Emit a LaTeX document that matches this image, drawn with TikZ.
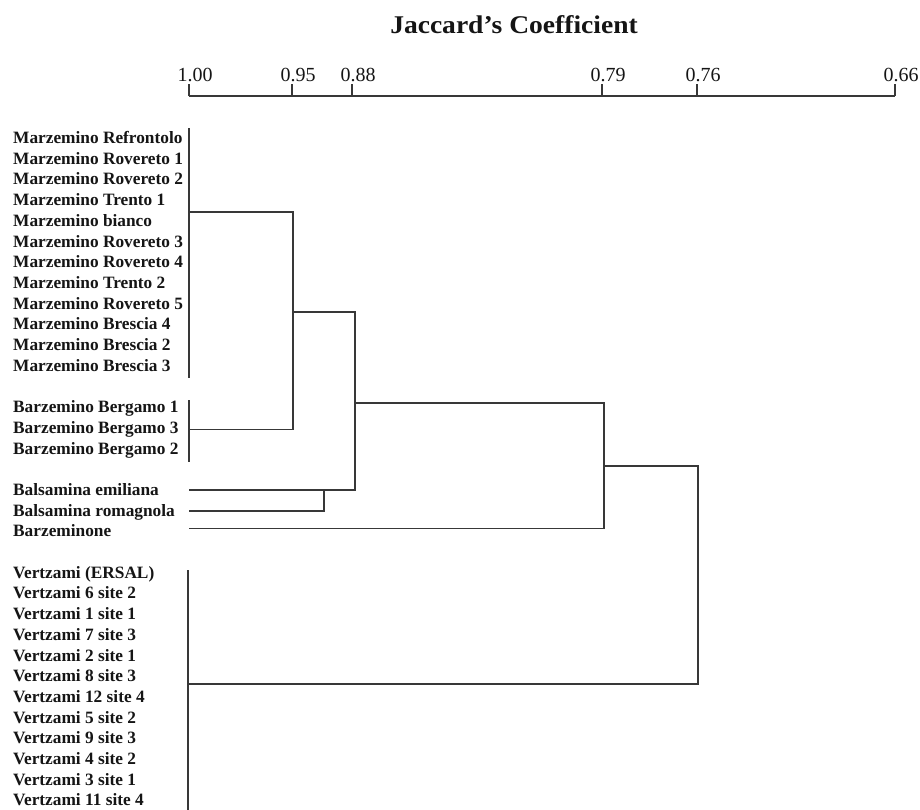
\documentclass[tikz,border=0pt]{standalone}
\usepackage{fontspec}
\setmainfont{Liberation Serif}
\definecolor{ink}{HTML}{151515}
\definecolor{wire}{HTML}{383838}
\begin{document}
\begin{tikzpicture}[x=1pt,y=-1pt,
  lbl/.style={anchor=base west,inner sep=0pt,font=\fontsize{17.3}{17.3}\selectfont\bfseries,text=ink},
  ticklbl/.style={anchor=base,inner sep=0pt,font=\fontsize{20}{20}\selectfont,text=ink},
  ttl/.style={anchor=base,inner sep=0pt,font=\fontsize{25.5}{25.5}\selectfont\bfseries,text=ink},
  link/.style={draw=wire,line width=1.1pt},
]
\useasboundingbox[fill=white] (0,0) rectangle (920,809);

% title
\node[ttl] (title) at (514,33.5) {\scalebox{1.08}[1]{Jaccard's Coefficient}};

% axis
\coordinate (a100) at (189,96);
\coordinate (a95) at (292,96);
\coordinate (a88) at (352,96);
\coordinate (a79) at (602,96);
\coordinate (a76) at (697,96);
\coordinate (a66) at (895,96);
\draw[link] (a100) -- (a66);
\foreach \n/\t in {a100/1.00,a95/0.95,a88/0.88,a79/0.79,a76/0.76,a66/0.66}{
  \draw[link] (\n) -- ++(0,-12);
  \node[ticklbl] (l\n) at ([xshift=6pt,yshift=15pt]\n) {\t};
}

% labels
\foreach \i/\t in {
 0/Marzemino Refrontolo,1/Marzemino Rovereto 1,2/Marzemino Rovereto 2,3/Marzemino Trento 1,
 4/Marzemino bianco,5/Marzemino Rovereto 3,6/Marzemino Rovereto 4,7/Marzemino Trento 2,
 8/Marzemino Rovereto 5,9/Marzemino Brescia 4,10/Marzemino Brescia 2,11/Marzemino Brescia 3,
 13/Barzemino Bergamo 1,14/Barzemino Bergamo 3,15/Barzemino Bergamo 2,
 17/Balsamina emiliana,18/Balsamina romagnola,19/Barzeminone,
 21/Vertzami (ERSAL),22/Vertzami 6 site 2,23/Vertzami 1 site 1,24/Vertzami 7 site 3,
 25/Vertzami 2 site 1,26/Vertzami 8 site 3,27/Vertzami 12 site 4,28/Vertzami 5 site 2,
 29/Vertzami 9 site 3,30/Vertzami 4 site 2,31/Vertzami 3 site 1,32/Vertzami 11 site 4}{
  \node[lbl] (r\i) at (13,{138+\i*20.7+5.5}) {\t};
}

% junction coordinates
\coordinate (mtop) at (189,128);
\coordinate (mbot) at (189,378);
\coordinate (mmid) at (189,212);
\coordinate (btop) at (189,400);
\coordinate (bbot) at (189,462);
\coordinate (bmid) at (189,429.5);
\coordinate (p95a) at (293,212);
\coordinate (p95b) at (293,429.5);
\coordinate (p95m) at (293,312);
\coordinate (p88a) at (355,312);
\coordinate (p88b) at (355,490);
\coordinate (p88m) at (355,403);
\coordinate (emil) at (189,490);
\coordinate (roma) at (189,511);
\coordinate (p97a) at (324,490);
\coordinate (p97b) at (324,511);
\coordinate (barz) at (189,528.5);
\coordinate (p79a) at (604,403);
\coordinate (p79b) at (604,528.5);
\coordinate (p79m) at (604,466);
\coordinate (p76a) at (698,466);
\coordinate (p76b) at (698,684);
\coordinate (vtop) at (188,570);
\coordinate (vbot) at (188,815);
\coordinate (vmid) at (188,684);

% dendrogram
\draw[link] (mtop) -- (mbot);
\draw[link] (mmid) -- (p95a) -- (p95b) -- (bmid);
\draw[link] (btop) -- (bbot);
\draw[link] (p95m) -- (p88a) -- (p88b) -- (emil);
\draw[link] (roma) -- (p97b) -- (p97a);
\draw[link] (p88m) -- (p79a) -- (p79b) -- (barz);
\draw[link] (p79m) -- (p76a) -- (p76b) -- (vmid);
\draw[link] (vtop) -- (vbot);
\end{tikzpicture}
\end{document}
